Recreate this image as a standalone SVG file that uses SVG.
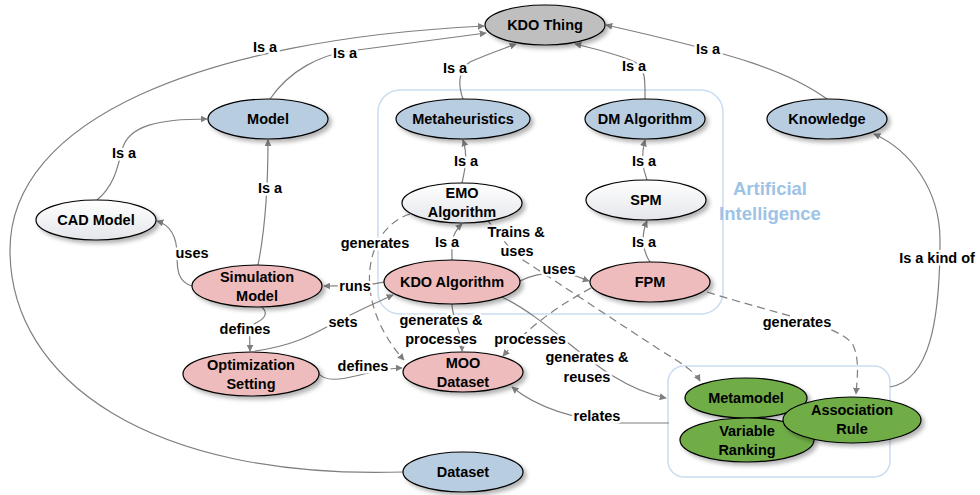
<svg xmlns="http://www.w3.org/2000/svg" width="980" height="495" viewBox="0 0 980 495">
<defs>
<filter id="sh" x="-20%" y="-20%" width="150%" height="160%">
<feDropShadow dx="3" dy="3" stdDeviation="2" flood-color="#000" flood-opacity="0.3"/>
</filter>
<linearGradient id="wg" x1="0" y1="0" x2="0" y2="1">
<stop offset="0" stop-color="#ffffff"/>
<stop offset="1" stop-color="#e4e6ea"/>
</linearGradient>
<marker id="ah" viewBox="0 0 10 10" refX="9" refY="5" markerWidth="7" markerHeight="7" markerUnits="userSpaceOnUse" orient="auto">
<path d="M0,0 L10,5 L0,10 z" fill="#7f7f7f"/>
</marker>
</defs>
<style>
.n{stroke:#000;stroke-width:1.2;filter:url(#sh)}
.gray{fill:#bfbfbf}.blue{fill:#b9cde0}.pink{fill:#eebcbc}.white{fill:url(#wg)}.green{fill:#70ad47}
.t{font-family:"Liberation Sans",Arial,sans-serif;font-weight:bold;font-size:14.5px;text-anchor:middle;fill:#000}
.e{fill:none;stroke:#7f7f7f;stroke-width:1.2;marker-end:url(#ah)}
.d{stroke-dasharray:8 5}
.l{font-family:"Liberation Sans",Arial,sans-serif;font-weight:bold;font-size:14.5px;text-anchor:middle;fill:#000;stroke:#fff;stroke-width:5;paint-order:stroke;stroke-linejoin:round}
.box{fill:none;stroke:#c9dcf0;stroke-width:1.5}
.ai{font-family:"Liberation Sans",Arial,sans-serif;font-weight:bold;font-size:18.5px;text-anchor:middle;fill:#9dc3e6}
</style>
<g id="groups">
<rect class="box" x="378" y="90" width="345" height="224" rx="22"/>
<rect class="box" x="668" y="366" width="222" height="111" rx="16"/>
<text class="ai" x="770" y="195">Artificial</text>
<text class="ai" x="770" y="220">Intelligence</text>
</g>
<g id="connectors">
<path class="e" d="M403 472 C150 480, 10 380, 10 250 C10 120, 200 40, 484 26"/>
<path class="e" d="M270 99 C290 70, 320 55, 350 51 L486 33"/>
<path class="e" d="M463 99 C458 85, 458 70, 470 62 C485 55, 500 50, 516 44"/>
<path class="e" d="M645 99 C645 80, 646 70, 635 62 C620 55, 600 50, 575 44"/>
<path class="e" d="M827 99 C790 72, 740 55, 606 25"/>
<path class="e" d="M97 200 C115 185, 118 165, 122 150 C128 125, 160 119, 207 119"/>
<path class="e" d="M258 265 C265 230, 268 180, 268 140"/>
<path class="e" d="M192 286 C178 282, 177 270, 177 255 C177 235, 170 225, 157 221"/>
<path class="e" d="M384 282 C375 284, 370 286, 324 286"/>
<path class="e" d="M262 307 C270 315, 262 320, 254 324 C248 328, 250 338, 250 351"/>
<path class="e" d="M255 351 C300 345, 320 330, 340 320 C360 310, 375 303, 393 295"/>
<path class="e" d="M318 373 C325 382, 340 380, 360 375 C380 370, 390 368, 402 368"/>
<path class="e" d="M452 304 C452 320, 462 330, 462 351"/>
<path class="e" d="M452 260 C452 245, 450 235, 462 224"/>
<path class="e" d="M462 183 C465 170, 468 155, 463 140"/>
<path class="e" d="M647 180 C643 170, 641 155, 645 140"/>
<path class="e" d="M650 262 C642 250, 641 235, 647 221"/>
<path class="e" d="M520 281 C530 276, 540 273, 560 273 C575 274, 580 278, 589 281"/>
<path class="e d" d="M488 221 C500 235, 510 250, 520 258 L660 350 C680 362, 695 372, 700 381"/>
<path class="e d" d="M410 214 C365 228, 350 300, 404 360"/>
<path class="e d" d="M591 288 C560 305, 530 325, 503 356"/>
<path class="e" d="M502 297 C560 325, 600 385, 666 398"/>
<path class="e" d="M669 423 L620 423 C580 420, 540 410, 512 387"/>
<path class="e d" d="M707 292 C780 315, 840 325, 853 345 C860 360, 857 380, 856 394"/>
<path class="e" d="M890 387 C930 380, 940 320, 940 240 C940 190, 910 150, 874 134"/>
<text class="l" x="265" y="52">Is a</text>
<text class="l" x="345" y="58">Is a</text>
<text class="l" x="455" y="73">Is a</text>
<text class="l" x="634" y="71">Is a</text>
<text class="l" x="708" y="54">Is a</text>
<text class="l" x="124" y="158">Is a</text>
<text class="l" x="270" y="193">Is a</text>
<text class="l" x="192" y="258">uses</text>
<text class="l" x="355" y="291">runs</text>
<text class="l" x="245" y="334">defines</text>
<text class="l" x="343" y="327">sets</text>
<text class="l" x="363" y="371">defines</text>
<text class="l" x="441" y="325">generates &amp;</text>
<text class="l" x="441" y="344">processes</text>
<text class="l" x="447" y="247">Is a</text>
<text class="l" x="466" y="166">Is a</text>
<text class="l" x="644" y="166">Is a</text>
<text class="l" x="644" y="247">Is a</text>
<text class="l" x="559" y="274">uses</text>
<text class="l" x="516" y="237">Trains &amp;</text>
<text class="l" x="517" y="256">uses</text>
<text class="l" x="375" y="248">generates</text>
<text class="l" x="530" y="344">processes</text>
<text class="l" x="587" y="362">generates &amp;</text>
<text class="l" x="587" y="382">reuses</text>
<text class="l" x="597" y="421">relates</text>
<text class="l" x="797" y="327">generates</text>
<text class="l" x="937" y="263">Is a kind of</text>
</g>
<g id="kdo-thing"><ellipse class="n gray" cx="545" cy="25" rx="60" ry="20"/><text class="t" x="545" y="30">KDO Thing</text></g>
<g id="model"><ellipse class="n blue" cx="268" cy="119" rx="60" ry="20"/><text class="t" x="268" y="124">Model</text></g>
<g id="metaheuristics"><ellipse class="n blue" cx="463" cy="119" rx="67" ry="20"/><text class="t" x="463" y="124">Metaheuristics</text></g>
<g id="dm-algorithm"><ellipse class="n blue" cx="645" cy="119" rx="60" ry="20"/><text class="t" x="645" y="124">DM Algorithm</text></g>
<g id="knowledge"><ellipse class="n blue" cx="827" cy="119" rx="60" ry="20"/><text class="t" x="827" y="124">Knowledge</text></g>
<g id="cad-model"><ellipse class="n white" cx="96" cy="220" rx="60" ry="20"/><text class="t" x="96" y="225">CAD Model</text></g>
<g id="emo-algorithm"><ellipse class="n white" cx="462" cy="203" rx="60" ry="20"/><text class="t" x="462" y="198">EMO</text><text class="t" x="462" y="217">Algorithm</text></g>
<g id="spm"><ellipse class="n white" cx="646" cy="200" rx="60" ry="20"/><text class="t" x="646" y="205">SPM</text></g>
<g id="kdo-algorithm"><ellipse class="n pink" cx="452" cy="282" rx="68" ry="22"/><text class="t" x="452" y="287">KDO Algorithm</text></g>
<g id="fpm"><ellipse class="n pink" cx="650" cy="282" rx="60" ry="20"/><text class="t" x="650" y="287">FPM</text></g>
<g id="simulation-model"><ellipse class="n pink" cx="257" cy="286" rx="65" ry="21"/><text class="t" x="257" y="282">Simulation</text><text class="t" x="257" y="301">Model</text></g>
<g id="optimization-setting"><ellipse class="n pink" cx="251" cy="374" rx="68" ry="22"/><text class="t" x="251" y="370">Optimization</text><text class="t" x="251" y="389">Setting</text></g>
<g id="moo-dataset"><ellipse class="n pink" cx="463" cy="372" rx="60" ry="20"/><text class="t" x="463" y="368">MOO</text><text class="t" x="463" y="387">Dataset</text></g>
<g id="dataset"><ellipse class="n blue" cx="463" cy="472" rx="60" ry="20"/><text class="t" x="463" y="477">Dataset</text></g>
<g id="metamodel"><ellipse class="n green" cx="746" cy="398" rx="61" ry="20"/><text class="t" x="746" y="403">Metamodel</text></g>
<g id="variable-ranking"><ellipse class="n green" cx="747" cy="440" rx="67" ry="22"/><text class="t" x="747" y="436">Variable</text><text class="t" x="747" y="455">Ranking</text></g>
<g id="association-rule"><ellipse class="n green" cx="852" cy="420" rx="69" ry="23"/><text class="t" x="852" y="415">Association</text><text class="t" x="852" y="434">Rule</text></g>
</svg>
